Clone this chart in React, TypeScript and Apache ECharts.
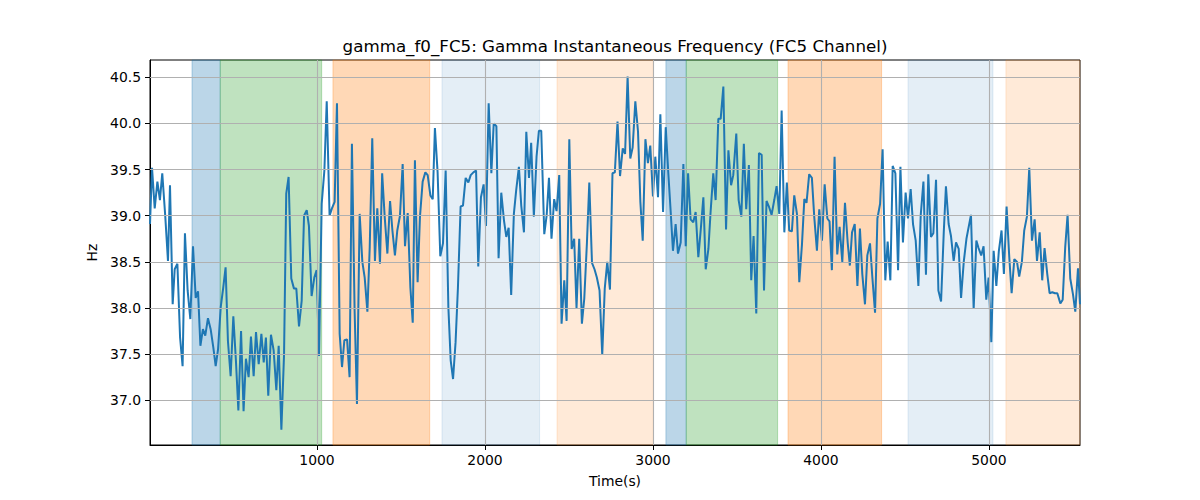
import React, { useEffect, useRef } from "react";
import * as echarts from "echarts";

const times = [
  6, 18, 34, 50, 65, 79, 97, 113, 125, 141, 153, 169, 185, 200, 214, 230, 246, 262, 278, 292,
  306, 321, 335, 351, 367, 383, 397, 411, 427, 442, 456, 470, 486, 502, 518, 532, 548, 563, 577, 593,
  607, 623, 637, 653, 669, 683, 696,
  710, 726, 742, 758, 772, 788, 804, 817, 831, 847, 863, 877, 893, 909, 923, 939, 952, 968, 984, 998,
  1012, 1028, 1044, 1058, 1075, 1089, 1105, 1119, 1135, 1149, 1163, 1179, 1194, 1208, 1224, 1238, 1254, 1270, 1284, 1300,
  1314, 1329, 1345, 1359, 1375, 1388,
  1403, 1419, 1435, 1449, 1464, 1478, 1494, 1510, 1524, 1540, 1556, 1570, 1583, 1599, 1613, 1629, 1645, 1659, 1675, 1689,
  1702, 1718, 1734, 1750, 1766, 1782, 1796, 1810, 1825, 1839, 1855, 1869, 1885, 1901, 1915, 1931, 1947, 1960, 1976, 1992,
  2006, 2022, 2038, 2052, 2068, 2081,
  2097, 2113, 2127, 2141, 2156, 2172, 2186, 2202, 2216, 2232, 2246, 2262, 2275, 2291, 2307, 2321, 2335, 2353, 2367, 2381,
  2396, 2412, 2426, 2442, 2456, 2472, 2486, 2502, 2516, 2531, 2545, 2561, 2577, 2591, 2607, 2621, 2637, 2652, 2666, 2682,
  2698, 2713, 2728, 2744, 2759, 2773, 2789,
  2804, 2820, 2834, 2849, 2865, 2879, 2895, 2911, 2925, 2939, 2955, 2970, 2984, 3000, 3014, 3030, 3044, 3060, 3076, 3091,
  3105, 3119, 3135, 3149, 3165, 3181, 3195, 3209, 3224, 3240, 3254, 3270, 3284, 3300, 3314, 3330, 3343, 3359, 3373, 3389,
  3403, 3419, 3435, 3449, 3465, 3478,
  3496, 3510, 3526, 3541, 3555, 3571, 3585, 3599, 3615, 3631, 3647, 3661, 3676, 3692, 3706, 3722, 3736, 3752, 3766, 3782,
  3797, 3811, 3827, 3841, 3857, 3871, 3887, 3901, 3914, 3930, 3946, 3960, 3976, 3990, 4006, 4022, 4038, 4051, 4065, 4081,
  4097, 4111, 4127, 4143, 4159, 4172,
  4185, 4201, 4217, 4232, 4246, 4262, 4276, 4292, 4306, 4322, 4336, 4352, 4367, 4383, 4397, 4413, 4427, 4443, 4459, 4473,
  4488, 4504, 4518, 4534, 4548, 4564, 4580, 4594, 4610, 4625, 4639, 4655, 4669, 4685, 4699, 4715, 4731, 4744, 4760, 4774,
  4790, 4804, 4820, 4834, 4850, 4866,
  4893, 4909, 4925, 4938, 4954, 4968, 4984, 4998, 5014, 5028, 5044, 5059, 5075, 5089, 5105, 5121, 5135, 5151, 5167, 5180,
  5196, 5210, 5226, 5240, 5256, 5272, 5286, 5302, 5317, 5331, 5347, 5361, 5377, 5393, 5407, 5425, 5439, 5454, 5468, 5484,
  5500, 5514, 5530, 5542,
];

const values = [
  38.91, 39.52, 39.08, 39.37, 39.17, 39.46, 38.99, 38.51, 39.33, 38.04, 38.42, 38.48, 37.68, 37.37, 38.81, 38.19, 37.88, 38.67, 38.11, 38.18,
  37.59, 37.77, 37.7, 37.89, 37.77, 37.57, 37.37, 37.55, 38.01, 38.22, 38.44, 37.64, 37.26, 37.91, 37.41, 36.89, 37.75, 36.88, 37.45, 37.25,
  37.69, 37.26, 37.74, 37.39, 37.72, 37.41, 37.68,
  37.05, 37.71, 37.54, 37.11, 37.59, 36.68, 37.5, 39.24, 39.42, 38.32, 38.21, 38.21, 37.8, 38.08, 39.0, 39.06, 38.89, 38.13, 38.33, 38.41,
  37.48, 39.13, 39.49, 40.24, 39.0, 39.08, 39.15, 40.22, 37.72, 37.36, 37.65, 37.66, 37.25, 39.78, 37.97, 36.96, 39.02, 38.5, 38.33, 37.96,
  38.66, 39.84, 38.51, 39.08, 38.48, 39.46,
  38.99, 38.59, 39.16, 38.84, 38.57, 38.84, 39.0, 39.56, 38.67, 39.03, 38.22, 37.84, 39.6, 38.28, 38.99, 39.37, 39.47, 39.44, 39.22, 39.18,
  39.95, 39.47, 38.56, 38.7, 39.49, 38.01, 37.43, 37.23, 37.63, 38.22, 39.1, 39.11, 39.41, 39.36, 39.44, 39.47, 39.49, 38.45, 39.2, 39.34,
  38.89, 40.22, 39.46, 40.0, 39.97, 38.54,
  39.25, 38.95, 38.77, 38.87, 38.14, 39.02, 39.28, 39.53, 39.11, 38.82, 39.91, 39.41, 39.79, 38.99, 39.64, 39.92, 39.92, 38.8, 39.0, 39.41,
  38.75, 39.18, 39.05, 39.44, 37.83, 38.3, 37.86, 39.83, 38.64, 38.75, 38.0, 38.75, 37.83, 38.1, 38.71, 39.36, 38.49, 38.42, 38.33, 38.19,
  37.49, 38.21, 38.5, 38.2, 39.46, 39.47, 40.02,
  39.43, 39.73, 39.67, 40.51, 39.62, 39.74, 40.24, 39.91, 39.15, 38.73, 39.83, 39.57, 39.76, 39.21, 39.64, 39.2, 40.1, 39.04, 39.96, 39.47,
  39.06, 38.62, 38.91, 38.59, 38.71, 39.56, 38.67, 39.46, 38.96, 38.93, 39.04, 38.55, 38.84, 39.2, 38.42, 38.64, 39.04, 39.46, 39.17, 40.05,
  40.05, 40.4, 38.85, 39.71, 39.33, 39.44,
  39.89, 39.17, 38.99, 39.78, 39.07, 39.55, 38.3, 38.78, 37.94, 39.68, 39.66, 38.19, 39.16, 39.09, 39.01, 39.17, 39.32, 39.02, 40.14, 38.82,
  39.36, 38.84, 38.83, 39.22, 39.02, 38.28, 38.69, 39.18, 39.14, 39.45, 39.41, 38.99, 38.62, 39.07, 38.73, 39.34, 38.97, 38.94, 38.41, 39.64,
  38.58, 38.88, 38.5, 39.14, 38.71, 38.46,
  38.82, 38.91, 38.24, 38.86, 38.37, 38.04, 38.57, 38.7, 38.33, 37.95, 38.97, 39.13, 39.72, 38.3, 38.72, 38.3, 39.54, 39.46, 38.41, 39.53,
  38.71, 39.25, 38.97, 39.29, 38.91, 38.73, 38.24, 39.01, 39.37, 38.36, 39.45, 38.77, 38.81, 39.39, 38.19, 38.07, 38.82, 39.32, 38.91, 38.78,
  38.51, 38.71, 38.64, 38.11, 38.5, 38.75,
  39.01, 37.99, 38.73, 38.65, 38.57, 38.67, 38.09, 38.33, 37.63, 38.62, 38.24, 38.62, 38.84, 38.37, 39.1, 38.55, 38.16, 38.53, 38.5, 38.34,
  38.5, 38.84, 38.99, 39.52, 38.73, 38.96, 38.51, 38.82, 38.3, 38.65, 38.37, 38.16, 38.17, 38.16, 38.16, 38.05, 38.09, 38.66, 39.01, 38.32,
  38.15, 37.96, 38.43, 38.04,
];

const xTicks = [1000, 2000, 3000, 4000, 5000];
const yTicks = [37.0, 37.5, 38.0, 38.5, 39.0, 39.5, 40.0, 40.5];

const bandStarts = [256, 424, 1095, 1744, 2429, 3077, 3198, 3804, 4518, 5101];
const bandEnds = [424, 1028, 1671, 2325, 3002, 3198, 3742, 4361, 5024, 5542];
const bandKinds = ["blue", "green", "orange", "lightblue", "lightorange", "blue", "green", "orange", "lightblue", "lightorange"];

const titleText = "gamma_f0_FC5: Gamma Instantaneous Frequency (FC5 Channel)";
const xName = "Time(s)";
const yName = "Hz";

const bandColors: Record<string, string> = {
  blue: "rgba(31,119,180,0.3)",
  green: "rgba(44,160,44,0.3)",
  orange: "rgba(255,127,14,0.3)",
  lightblue: "rgba(31,119,180,0.12)",
  lightorange: "rgba(255,127,14,0.16)",
};

const FONT = "DejaVu Sans";

export default function App() {
  const ref = useRef<HTMLDivElement>(null);
  useEffect(() => {
    if (!ref.current) return;
    const chart = echarts.init(ref.current, undefined, { renderer: "svg" });
    const lineData = times.map((t, i) => [t, values[i]]);
    const areaData = bandStarts.map((s, i) => [
      {
        xAxis: s,
        itemStyle: { color: bandColors[bandKinds[i]], borderColor: bandColors[bandKinds[i]], borderWidth: 1 },
      },
      { xAxis: bandEnds[i] },
    ]);
    const gridLines = [
      ...xTicks.map((v) => ({ xAxis: v })),
      ...yTicks.map((v) => ({ yAxis: v })),
    ];
    chart.setOption({
      animation: false,
      grid: {
        left: 150,
        right: 120,
        top: 60,
        bottom: 55,
        show: true,
        borderColor: "#000",
        borderWidth: 1,
        backgroundColor: "transparent",
      },
      graphic: [
        {
          type: "text",
          x: 615,
          y: 46,
          style: {
            text: titleText,
            fontFamily: FONT,
            fontSize: 16.7,
            fill: "#000",
            textAlign: "center",
            textVerticalAlign: "middle",
          },
        },
      ],
      xAxis: {
        type: "value",
        min: 6,
        max: 5542,
        name: xName,
        nameLocation: "middle",
        nameGap: 29,
        nameTextStyle: { fontFamily: FONT, fontSize: 13.9, color: "#000" },
        splitLine: { show: false },
        axisLine: { show: true, lineStyle: { color: "#000", width: 1 } },
        axisTick: { show: true, customValues: xTicks, length: 5, lineStyle: { color: "#000", width: 1 } },
        axisLabel: {
          customValues: xTicks,
          color: "#000",
          fontFamily: FONT,
          fontSize: 13.9,
          margin: 8,
          formatter: (v: number) => String(v),
        },
      },
      yAxis: {
        type: "value",
        min: 36.515,
        max: 40.688,
        name: yName,
        nameLocation: "middle",
        nameGap: 46,
        nameTextStyle: { fontFamily: FONT, fontSize: 13.9, color: "#000" },
        splitLine: { show: false },
        axisLine: { show: true, lineStyle: { color: "#000", width: 1 } },
        axisTick: { show: true, customValues: yTicks, length: 5, lineStyle: { color: "#000", width: 1 } },
        axisLabel: {
          customValues: yTicks,
          color: "#000",
          fontFamily: FONT,
          fontSize: 13.9,
          margin: 9,
          formatter: (v: number) => v.toFixed(1),
        },
      },
      series: [
        {
          type: "line",
          data: [],
          z: 1,
          silent: true,
          markArea: { silent: true, data: areaData },
        },
        {
          type: "line",
          data: [],
          z: 2,
          silent: true,
          markLine: {
            silent: true,
            symbol: ["none", "none"],
            label: { show: false },
            lineStyle: { color: "#b0b0b0", width: 1.1, type: "solid" },
            emphasis: { disabled: true },
            data: gridLines,
          },
        },
        {
          type: "line",
          data: lineData,
          z: 3,
          showSymbol: false,
          symbol: "none",
          lineStyle: { color: "#1f77b4", width: 2 },
          itemStyle: { color: "#1f77b4" },
        },
      ],
    });
    return () => chart.dispose();
  }, []);
  return (
    <div
      ref={ref}
      style={{ position: "absolute", left: 0, top: 0, width: 1200, height: 500, background: "#fff" }}
    />
  );
}
